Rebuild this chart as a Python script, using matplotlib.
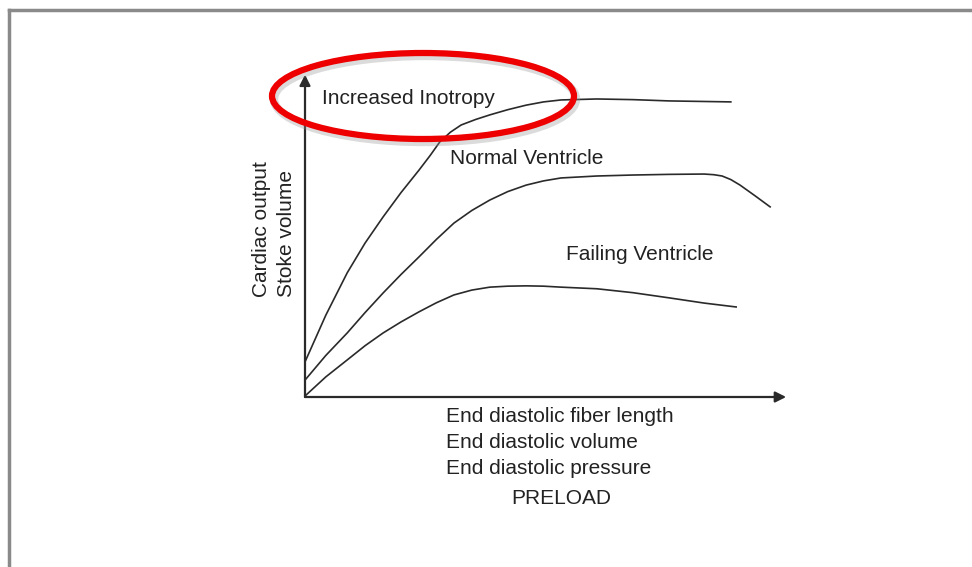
import matplotlib.pyplot as plt
from matplotlib.patches import Ellipse
from matplotlib.lines import Line2D

plt.rcParams['font.family'] = ['Liberation Sans', 'DejaVu Sans']

# Frank-Starling curves (preload 0-100, output 0-100)
ino_x = [0, 4.3, 8.7, 12.4, 16.1, 19.8, 23.5, 25.8, 27.8, 30.0, 32.2, 35.2, 38.1, 41.8, 45.6, 49.2,
         52.8, 60.2, 67.6, 75.1, 87.8]
ino_y = [10.8, 25.2, 38.2, 47.4, 55.4, 62.9, 69.8, 74.3, 78.5, 81.5, 83.7, 85.4, 86.8, 88.4, 89.8, 90.8,
         91.4, 91.7, 91.5, 91.1, 90.8]

norm_x = [0, 4.3, 8.7, 12.4, 16.1, 19.8, 23.5, 27.1, 30.7, 34.4, 38.1, 41.8, 45.6, 49.2, 52.8, 60.2,
          67.6, 75.0, 82.3, 84.3, 86.0, 87.8, 89.7, 92.8, 95.9]
norm_y = [5.2, 12.8, 19.7, 26.0, 32.0, 37.7, 43.1, 48.5, 53.5, 57.4, 60.6, 63.2, 65.2, 66.5, 67.4, 68.0,
          68.3, 68.5, 68.6, 68.4, 68.0, 66.9, 65.2, 61.9, 58.5]

fail_x = [0, 4.3, 8.7, 12.4, 16.1, 19.8, 23.5, 27.1, 30.7, 34.4, 38.1, 41.8, 45.6, 49.2, 52.8, 60.2,
          67.6, 75.1, 82.3, 88.9]
fail_y = [0.3, 6.2, 11.4, 15.8, 19.7, 23.1, 26.2, 29.0, 31.4, 32.9, 33.8, 34.1, 34.2, 34.1, 33.8, 33.3,
          32.1, 30.5, 28.9, 27.7]

curve_labels = ['Increased Inotropy', 'Normal Ventricle', 'Failing Ventricle']
y_labels = ['Cardiac output', 'Stoke volume']
x_labels = ['End diastolic fiber length', 'End diastolic volume', 'End diastolic pressure']

W, H = 972, 567


def fx(px):
    return px / W


def fy(py):
    return 1 - py / H


fig = plt.figure(figsize=(9.72, 5.67), dpi=100)
fig.patch.set_facecolor('white')

# scanned page border (top and left edges)
fig.add_artist(Line2D([fx(9), fx(972)], [fy(10), fy(10)], color='#8a8a8a', lw=2.5))
fig.add_artist(Line2D([fx(9), fx(9)], [fy(10), fy(567)], color='#8a8a8a', lw=2.5))

ax = fig.add_axes([fx(305), fy(397), 485 / W, 325 / H])
ax.set_xlim(0, 100)
ax.set_ylim(0, 100)
ax.axis('off')

ink = '#2a2a2a'
for xs, ys in [(ino_x, ino_y), (norm_x, norm_y), (fail_x, fail_y)]:
    ax.plot(xs, ys, color=ink, lw=1.2, solid_joinstyle='round', clip_on=False)

# axes with arrow heads
arrow = dict(arrowstyle='-|>', color=ink, lw=1.6, mutation_scale=16, shrinkA=0, shrinkB=0)
ax.annotate('', xy=(99.2, 0), xytext=(0, 0), arrowprops=arrow, annotation_clip=False)
ax.annotate('', xy=(0, 99.2), xytext=(0, 0), arrowprops=arrow, annotation_clip=False)

fs = 15
tc = '#222222'
fig.text(fx(322), fy(98), curve_labels[0], fontsize=fs, color=tc, va='center', ha='left')
fig.text(fx(450), fy(158), curve_labels[1], fontsize=fs, color=tc, va='center', ha='left')
fig.text(fx(566), fy(255), curve_labels[2], fontsize=fs, color=tc, va='center', ha='left')

fig.text(fx(261), fy(297), y_labels[0], fontsize=fs, color=tc, rotation=90,
         rotation_mode='anchor', ha='left', va='center')
fig.text(fx(286), fy(297), y_labels[1], fontsize=fs, color=tc, rotation=90,
         rotation_mode='anchor', ha='left', va='center')

for i, lab in enumerate(x_labels):
    fig.text(fx(446), fy(417 + 26 * i), lab, fontsize=fs, color=tc, va='center', ha='left')
fig.text(fx(561), fy(498), 'PRELOAD', fontsize=fs, color=tc, va='center', ha='center')

# red highlight ring with a soft shadow
fig.add_artist(Ellipse((fx(425), fy(99)), 302 / W, 86 / H, transform=fig.transFigure,
                       fill=False, edgecolor='#999999', lw=6, alpha=0.35))
fig.add_artist(Ellipse((fx(423), fy(96)), 302 / W, 86 / H, transform=fig.transFigure,
                       fill=False, edgecolor='#ee0000', lw=4.5))

fig.savefig('out.png', dpi=100)
